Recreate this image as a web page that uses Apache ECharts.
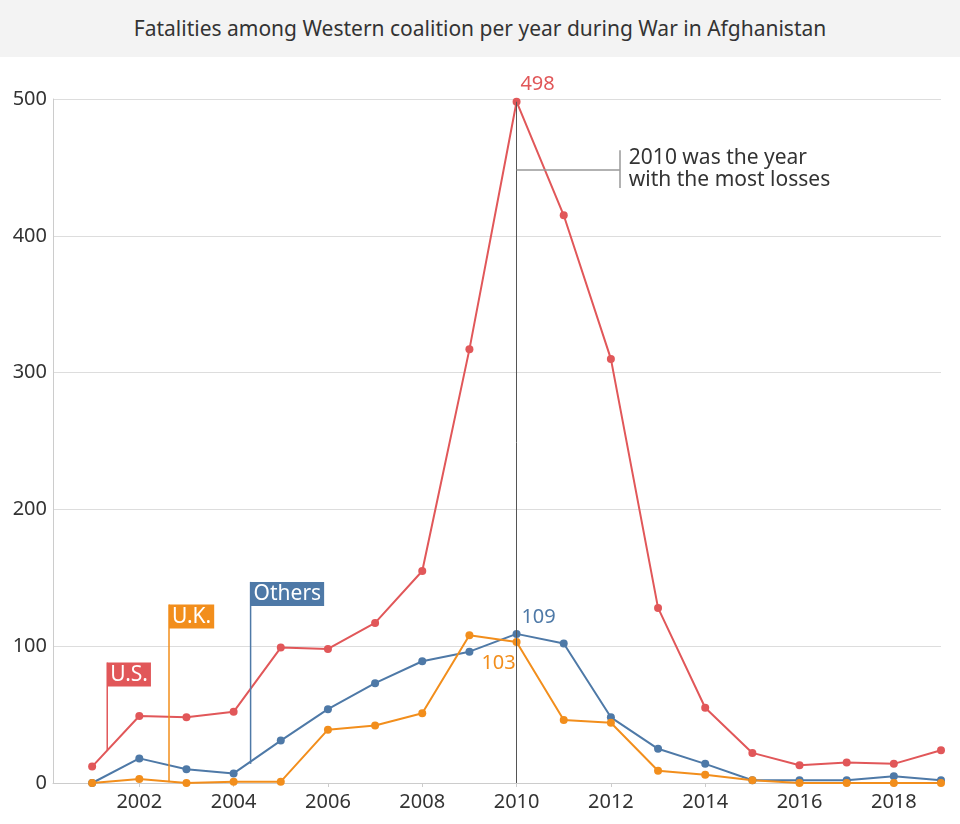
<!DOCTYPE html>
<html>
<head>
<meta charset="utf-8">
<script src="https://cdn.jsdelivr.net/npm/echarts@6/dist/echarts.min.js"></script>
<style>
  html, body { margin: 0; padding: 0; background: #fff; }
  #title { height: 57px; background: #f3f3f3; color: #333; font-family: 'Noto Sans', sans-serif;
           font-size: 21px; text-align: center; line-height: 57px; }
  #chart-container { width: 960px; height: 767px; }
</style>
</head>
<body>
<div id="title">Fatalities among Western coalition per year during War in Afghanistan</div>
<div id="chart-container"></div>
<script>
var years = [2001, 2002, 2003, 2004, 2005, 2006, 2007, 2008, 2009, 2010,
             2011, 2012, 2013, 2014, 2015, 2016, 2017, 2018, 2019];
var usData = [12, 49, 48, 52, 99, 98, 117, 155, 317, 498, 415, 310, 128, 55, 22, 13, 15, 14, 24];
var ukData = [0, 3, 0, 1, 1, 39, 42, 51, 108, 103, 46, 44, 9, 6, 2, 0, 0, 0, 0];
var othersData = [0, 18, 10, 7, 31, 54, 73, 89, 96, 109, 102, 48, 25, 14, 2, 2, 2, 5, 2];
var xTickLabels = [2002, 2004, 2006, 2008, 2010, 2012, 2014, 2016, 2018];
var yTickLabels = [0, 100, 200, 300, 400, 500];

var font = 'Noto Sans';
var red = '#e15759', orange = '#f28e1c', blue = '#4e79a7';

function pairs(arr) {
  return arr.map(function (v, i) { return [years[i], v]; });
}

var dom = document.getElementById('chart-container');
var myChart = echarts.init(dom, null, { renderer: 'canvas' });

function peakLabel(color, pos, offset) {
  return {
    show: true, position: pos, offset: offset, color: color,
    fontFamily: font, fontSize: 20,
    formatter: function (p) { return p.dataIndex === 9 ? p.value[1] : ''; }
  };
}

var option = {
  animation: false,
  textStyle: { fontFamily: font },
  grid: { left: 53, right: 19, top: 42, bottom: 41 },
  xAxis: {
    type: 'value', min: 2000.17, max: 2019,
    axisLine: { show: true, lineStyle: { color: '#ccc' } },
    axisTick: { show: true, customValues: xTickLabels, length: 4, lineStyle: { color: '#ccc' } },
    axisLabel: { customValues: xTickLabels, color: '#333', fontSize: 20, margin: 9,
                 fontFamily: font, formatter: function (v) { return String(v); } },
    splitLine: { show: false }
  },
  yAxis: {
    type: 'value', min: 0, max: 500, interval: 100,
    axisLine: { show: true, lineStyle: { color: '#ccc' } },
    axisTick: { show: false },
    axisLabel: { color: '#333', fontSize: 20, margin: 6, fontFamily: font,
                 formatter: function (v) { return yTickLabels.indexOf(v) >= 0 ? String(v) : ''; } },
    splitLine: { lineStyle: { color: '#ddd' } }
  },
  series: [
    {
      name: 'Others', type: 'line', data: pairs(othersData),
      color: blue, symbol: 'circle', symbolSize: 8,
      lineStyle: { width: 2 },
      label: peakLabel(blue, 'top', [22, 2])
    },
    {
      name: 'U.K.', type: 'line', data: pairs(ukData),
      color: orange, symbol: 'circle', symbolSize: 8,
      lineStyle: { width: 2 },
      label: peakLabel(orange, 'bottom', [-18, 2])
    },
    {
      name: 'U.S.', type: 'line', data: pairs(usData),
      color: red, symbol: 'circle', symbolSize: 8,
      lineStyle: { width: 2 },
      label: peakLabel(red, 'top', [21, 2]),
      markLine: {
        silent: true, symbol: 'none', label: { show: false },
        data: [
          [{ coord: [2010, 498], lineStyle: { color: '#555', width: 1, type: 'solid' } }, { coord: [2010, 0] }],
          [{ coord: [2010, 448.5], lineStyle: { color: '#999', width: 1.5, type: 'solid' } }, { coord: [2012.19, 448.5] }],
          [{ coord: [2012.19, 462.5], lineStyle: { color: '#999', width: 1.5, type: 'solid' } }, { coord: [2012.19, 435] }]
        ]
      }
    }
  ]
};
myChart.setOption(option);

// series name tags: [x, y of tag top, y of leader end, text, colour]
var tags = [
  [2001.32, 88, 24, 'U.S.', red],
  [2002.63, 130.5, 0.5, 'U.K.', orange],
  [2004.36, 147, 14, 'Others', blue]
];

var graphics = [];
tags.forEach(function (t) {
  var top = myChart.convertToPixel('grid', [t[0], t[1]]);
  var end = myChart.convertToPixel('grid', [t[0], t[2]]);
  graphics.push({
    type: 'line', shape: { x1: top[0], y1: top[1], x2: end[0], y2: end[1] },
    style: { stroke: t[4], lineWidth: 1.5 }, z: 5
  });
  graphics.push({
    type: 'text', x: top[0], y: top[1], z: 6,
    style: { text: t[3], fill: '#fff', backgroundColor: t[4], padding: [2, 3, 1, 3],
             font: '21px "Noto Sans"', verticalAlign: 'top' }
  });
});
var notePos = myChart.convertToPixel('grid', [2012.19, 448.5]);
graphics.push({
  type: 'text', x: notePos[0] + 9, y: notePos[1], z: 6,
  style: { text: '2010 was the year\nwith the most losses', fill: '#333', lineHeight: 22,
           font: '21px "Noto Sans"', verticalAlign: 'middle' }
});
myChart.setOption({ graphic: graphics });

window.addEventListener('resize', myChart.resize);
</script>
</body>
</html>
